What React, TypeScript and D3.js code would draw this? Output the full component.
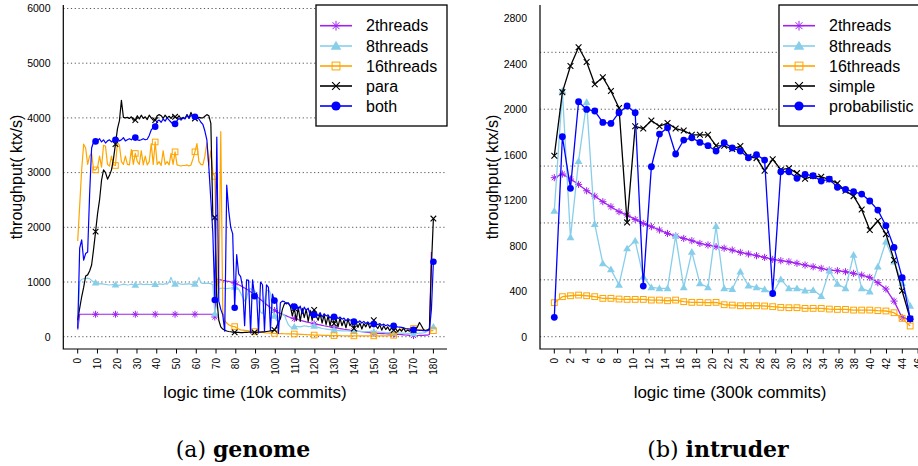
import React from 'react';
import * as d3 from 'd3';

// ---------- genome (logic time in 10k commits) ----------
const genomeTicks = [0, 10, 20, 30, 40, 50, 60, 70, 80, 90, 100, 110, 120, 130, 140, 150, 160, 170, 180];
const genomeYTicks = [0, 1000, 2000, 3000, 4000, 5000, 6000];

const genome2threads = [
  130, 410, 410, 410, 410, 410, 410, 410, 410, 410,
  410, 410, 410, 410, 410, 410, 410, 410, 410, 410,
  410, 410, 410, 410, 410, 410, 410, 410, 410, 410,
  410, 410, 410, 410, 410, 410, 410, 410, 410, 410,
  410, 410, 410, 410, 410, 410, 410, 410, 410, 410,
  410, 410, 410, 410, 410, 410, 410, 410, 410, 410,
  410, 410, 410, 410, 410, 410, 410, 410, 410, 360,
  1050, 1045, 1040, 1030, 1025, 1015, 1010, 1000, 995, 980,
  965, 950, 930, 910, 890, 870, 845, 820, 795, 765,
  740, 710, 680, 650, 620, 590, 560, 530, 505, 480,
  460, 440, 425, 410, 395, 380, 365, 350, 340, 330,
  320, 310, 300, 290, 280, 270, 262, 255, 245, 235,
  228, 222, 215, 208, 200, 193, 186, 180, 172, 165,
  160, 154, 148, 142, 136, 131, 126, 120, 115, 110,
  105, 100, 96, 92, 88, 84, 80, 75, 70, 66,
  64, 62, 60, 58, 56, 54, 52, 50, 48, 46,
  44, 42, 40, 37, 34, 31, 28, 25, 22, 20,
  20, 22, 24, 25, 26, 28, 30, 40, 1550,
];

const genome8threads = [
  150, 1000, 1050, 1060, 1065, 1070, 1060, 1030, 1000, 985,
  975, 965, 970, 960, 955, 950, 945, 950, 955, 950,
  945, 940, 950, 960, 955, 945, 950, 960, 950, 945,
  950, 960, 965, 950, 955, 960, 950, 955, 965, 960,
  950, 965, 960, 955, 970, 960, 1000, 1085, 980, 965,
  960, 975, 960, 955, 965, 960, 970, 955, 960, 965,
  990, 1085, 985, 975, 980, 975, 975, 970, 950, 420,
  600, 880, 885, 890, 885, 880, 885, 890, 900, 910,
  905, 870, 800, 720, 650, 700, 860, 880, 850, 800,
  760, 640, 450, 420, 650, 840, 850, 800, 500, 380,
  300, 280, 330, 420, 400, 300, 220, 180, 170, 180,
  190, 185, 180, 190, 200, 195, 185, 190, 200, 195,
  180, 170, 160, 150, 145, 140, 135, 130, 125, 120,
  115, 112, 110, 108, 106, 104, 104, 102, 100, 100,
  98, 96, 95, 94, 93, 92, 92, 91, 90, 90,
  88, 85, 82, 80, 78, 76, 74, 73, 72, 72,
  70, 68, 66, 65, 64, 63, 62, 62, 61, 60,
  60, 62, 64, 66, 70, 80, 100, 130, 160, 180,
];

const genome16threads = [
  1750, 2400, 3050, 3520, 3450, 3150, 3300, 3350, 3050, 3050,
  3100, 3300, 3100, 3500, 3480, 3150, 3120, 3300, 3140, 3130,
  3550, 3500, 3200, 3150, 3300, 3150, 3140, 3420, 3150, 3350,
  3200, 3150, 3400, 3140, 3300, 3140, 3200, 3530, 3150, 3560,
  3150, 3200, 3130, 3400, 3150, 3200, 3140, 3350, 3150, 3380,
  3140, 3130, 3120, 3130, 3130, 3140, 3120, 3140, 3250, 3380,
  3530, 3200, 3150, 3140, 3300, 3540, 3130, 3400, 3000, 2930,
  1100, 800, 3750, 450, 300, 250, 220, 200, 190, 185,
  160, 140, 125, 120, 115, 110, 105, 100, 95, 95,
  90, 88, 85, 80, 75, 70, 68, 65, 62, 60,
  58, 57, 56, 55, 54, 53, 52, 51, 50, 50,
  48, 46, 44, 42, 40, 38, 36, 34, 32, 30,
  29, 28, 27, 26, 25, 24, 23, 22, 21, 20,
  19, 18, 18, 17, 17, 16, 16, 15, 15, 15,
  15, 15, 15, 15, 15, 15, 15, 15, 15, 15,
  15, 15, 15, 15, 15, 15, 16, 18, 20, 25,
  60, 110, 135, 140, 142, 140, 138, 145, 150, 150,
  135, 130, 128, 125, 122, 120, 118, 115, 112, 110,
];

const genomePara = [
  300, 520, 730, 900, 1110, 1130, 1200, 1310, 1600, 1920,
  2250, 2500, 2860, 3050, 3000, 2880, 2950, 3050, 3250, 3520,
  3800, 3950, 4320, 4010, 4000, 4010, 3990, 4020, 3960, 3960,
  4040, 3980, 4050, 3990, 4020, 3970, 4050, 4000, 3960, 3960,
  4040, 4060, 4040, 3990, 4050, 4000, 4030, 3990, 4040, 4020,
  3990, 4040, 3980, 4010, 3990, 4060, 4000, 4100, 4020, 3990,
  4000, 4010, 4000, 4000, 4030, 4060, 4040, 3900, 2200, 2180,
  700, 300, 180, 140, 120, 105, 95, 90, 85, 80,
  80, 78, 76, 76, 78, 80, 82, 85, 82, 80,
  80, 82, 85, 88, 90, 95, 100, 105, 110, 125,
  180, 260, 330, 500, 600, 620, 610, 560, 380, 520,
  300, 540, 280, 520, 350, 500, 280, 480, 300, 490,
  380, 300, 420, 250, 400, 220, 380, 200, 370, 240,
  330, 180, 340, 200, 300, 160, 320, 200, 260, 150,
  280, 170, 250, 140, 240, 180, 260, 160, 220, 300,
  200, 150, 220, 120, 200, 130, 180, 110, 160, 120,
  150, 90, 140, 100, 160, 90, 120, 100, 140, 120,
  130, 180, 260, 200, 130, 110, 120, 150, 1300, 2160,
];

const genomeBoth = [
  150, 1620, 1770, 1400, 1520, 1550, 2600, 3450, 3560, 3570,
  3580, 3620, 3560, 3600, 3540, 3580, 3600, 3560, 3590, 3600,
  3620, 3580, 3600, 3640, 3580, 3600, 3620, 3600, 3640, 3640,
  3600, 3590, 3600, 3620, 3600, 3610, 3680, 3780, 3820, 3840,
  3940, 3960, 3920, 3980, 3940, 4000, 3960, 3920, 3880, 3890,
  3950, 3990, 3960, 4000, 3980, 4050, 3990, 4050, 4020, 4020,
  4000, 3980, 3920, 3880, 3760, 3600, 3100, 2500, 1900, 670,
  3650, 650, 500, 400, 100, 2770, 2300, 2000, 1880, 530,
  1500, 1150, 1100, 900, 200, 1040, 1030, 70, 1040, 740,
  800, 70, 1000, 950, 100, 950, 900, 120, 780, 660,
  700, 60, 620, 650, 640, 600, 620, 560, 600, 550,
  580, 500, 560, 420, 540, 480, 520, 390, 460, 400,
  430, 380, 440, 360, 420, 380, 400, 340, 390, 365,
  380, 330, 360, 320, 340, 290, 330, 300, 310, 275,
  300, 260, 290, 250, 280, 240, 270, 230, 260, 230,
  250, 220, 240, 210, 230, 200, 220, 190, 210, 200,
  190, 180, 175, 170, 160, 150, 145, 140, 130, 125,
  120, 120, 115, 115, 110, 110, 115, 120, 500, 1370,
];

// ---------- intruder (logic time in 300k commits) ----------
const intruderTicks = [0, 2, 4, 6, 8, 10, 12, 14, 16, 18, 20, 22, 24, 26, 28, 30, 32, 34, 36, 38, 40, 42, 44, 46];
const intruderYTicks = [0, 400, 800, 1200, 1600, 2000, 2400, 2800];
const intruderGrid = [0, 500, 1000, 1500, 2000, 2500];

const intruder2threads = [
  1398, 1430, 1386, 1339, 1283, 1236, 1187, 1143, 1099, 1069,
  1031, 996, 967, 938, 908, 885, 864, 844, 820, 806,
  791, 778, 762, 741, 727, 712, 697, 680, 668, 659,
  645, 630, 615, 601, 586, 580, 571, 557, 542, 522,
  475, 419, 313, 167, 150,
];
const intruder8threads = [
  1106, 2160, 872, 1544, 2061, 989, 644, 591, 456, 775,
  843, 527, 433, 424, 424, 887, 433, 746, 468, 433,
  971, 424, 418, 571, 448, 434, 416, 381, 504, 425,
  425, 404, 410, 357, 580, 463, 425, 718, 425, 396,
  615, 835, 660, 470, 270,
];
const intruder16threads = [
  299, 352, 360, 366, 360, 352, 337, 337, 331, 328,
  328, 328, 322, 322, 316, 322, 308, 302, 302, 299,
  302, 281, 278, 272, 272, 272, 270, 264, 258, 255,
  255, 249, 249, 249, 243, 240, 240, 234, 234, 234,
  229, 226, 211, 161, 94,
];
const intruderSimple = [
  1590, 2150, 2380, 2545, 2415, 2220, 2280, 2160, 2010, 1005,
  1850, 1830, 1900, 1850, 1878, 1830, 1812, 1775, 1775, 1775,
  1680, 1678, 1650, 1676, 1582, 1570, 1460, 1560, 1468, 1480,
  1438, 1388, 1412, 1406, 1383, 1348, 1283, 1236, 1119, 938,
  1017, 902, 674, 404, 158,
];
const intruderProbabilistic = [
  170, 1758, 1304, 2066, 1998, 1984, 1884, 1875, 1969, 2028,
  1969, 445, 1494, 1781, 1837, 1606, 1729, 1749, 1708, 1679,
  1632, 1705, 1660, 1632, 1573, 1600, 1553, 380, 1450, 1450,
  1392, 1427, 1415, 1368, 1386, 1313, 1295, 1275, 1254, 1193,
  1113, 976, 785, 519, 158,
];

const genomeLabels = ['2threads', '8threads', '16threads', 'para', 'both'];
const intruderLabels = ['2threads', '8threads', '16threads', 'simple', 'probabilistic'];

const PURPLE = '#A020F0';
const SKY = '#87CEEB';
const ORANGE = '#FFA500';
const BLACK = '#000000';
const BLUE = '#0000FF';

type Shape = 'asterisk' | 'triangle' | 'square' | 'cross' | 'circle';
const seriesColors = [PURPLE, SKY, ORANGE, BLACK, BLUE];
const seriesShapes: Shape[] = ['asterisk', 'triangle', 'square', 'cross', 'circle'];

const FONT = '"Liberation Sans", Arial, Helvetica, sans-serif';
const SERIF = '"DejaVu Serif", "Liberation Serif", serif';

function Marker({ shape, x, y, color, s }: { shape: Shape; x: number; y: number; color: string; s: number }) {
  switch (shape) {
    case 'asterisk': {
      const a = s * 1.05;
      const b = s * 0.75;
      return (
        <path
          d={`M${x - a},${y}H${x + a}M${x},${y - a}V${y + a}M${x - b},${y - b}L${x + b},${y + b}M${x - b},${y + b}L${x + b},${y - b}`}
          stroke={color}
          strokeWidth={1}
          fill="none"
        />
      );
    }
    case 'triangle': {
      const h = s * 1.15;
      return <path d={`M${x},${y - h}L${x + h},${y + h * 0.72}L${x - h},${y + h * 0.72}Z`} fill={color} stroke="none" />;
    }
    case 'square':
      return <rect x={x - s * 0.85} y={y - s * 0.85} width={s * 1.7} height={s * 1.7} fill="none" stroke={color} strokeWidth={1} />;
    case 'cross': {
      const c = s * 0.85;
      return (
        <path d={`M${x - c},${y - c}L${x + c},${y + c}M${x - c},${y + c}L${x + c},${y - c}`} stroke={color} strokeWidth={1.1} fill="none" />
      );
    }
    default:
      return <circle cx={x} cy={y} r={s} fill={color} />;
  }
}

interface PanelProps {
  series: number[][];
  xOf: (i: number) => number;
  xScale: d3.ScaleLinear<number, number>;
  yScale: d3.ScaleLinear<number, number>;
  xTicks: number[];
  yTicks: number[];
  grid: number[];
  left: number;
  right: number;
  top: number;
  bottom: number;
  markerEvery: (i: number) => boolean;
  markerSize: number;
  lineWidth: number;
  yLabelRight: number;
  yTitleX: number;
  xTitle: string;
  xTitleX: number;
  legendX: number;
  legendW: number;
  labels: string[];
}

function Panel(p: PanelProps) {
  const line = (vals: number[]) =>
    d3
      .line<number>()
      .x((_, i) => p.xScale(p.xOf(i)))
      .y((v) => p.yScale(v))(vals) ?? '';
  const rows = [25.7, 46, 66, 86, 106];
  return (
    <g>
      {/* horizontal dotted grid */}
      {p.grid.map((g) => (
        <line
          key={`g${g}`}
          x1={p.left}
          x2={p.right}
          y1={p.yScale(g)}
          y2={p.yScale(g)}
          stroke="#555"
          strokeWidth={1}
          strokeDasharray="1.2,2.6"
        />
      ))}
      {/* series */}
      {p.series.map((vals, si) => (
        <g key={`s${si}`}>
          <path d={line(vals)} fill="none" stroke={seriesColors[si]} strokeWidth={p.lineWidth} strokeLinejoin="round" />
          {vals.map((v, i) =>
            p.markerEvery(i) ? (
              <Marker key={i} shape={seriesShapes[si]} x={p.xScale(p.xOf(i))} y={p.yScale(v)} color={seriesColors[si]} s={p.markerSize} />
            ) : null
          )}
        </g>
      ))}
      {/* L-shaped axes */}
      <path d={`M${p.left},${p.top}V${p.bottom}H${p.right}`} fill="none" stroke="#000" strokeWidth={1.2} />
      {p.xTicks.map((t) => (
        <g key={`xt${t}`}>
          <line x1={p.xScale(t)} x2={p.xScale(t)} y1={p.bottom} y2={p.bottom + 4.5} stroke="#000" strokeWidth={1} />
          <text
            transform={`translate(${p.xScale(t) + 3.6},${p.bottom + 9}) rotate(-90)`}
            textAnchor="end"
            fontFamily={FONT}
            fontSize={10}
            fill="#000"
          >
            {t}
          </text>
        </g>
      ))}
      {p.yTicks.map((t) => (
        <text key={`yt${t}`} x={p.yLabelRight} y={p.yScale(t) + 3.8} textAnchor="end" fontFamily={FONT} fontSize={10.5} fill="#000">
          {t}
        </text>
      ))}
      <text
        transform={`translate(${p.yTitleX},${(p.top + p.bottom) / 2}) rotate(-90)`}
        textAnchor="middle"
        fontFamily={FONT}
        fontSize={16}
        fill="#000"
      >
        throughput( ktx/s)
      </text>
      <text x={p.xTitleX} y={398} textAnchor="middle" fontFamily={FONT} fontSize={17} fill="#000">
        {p.xTitle}
      </text>
      {/* legend */}
      <rect x={p.legendX} y={5} width={p.legendW} height={121} fill="#fff" stroke="#000" strokeWidth={1.3} />
      {p.labels.map((lab, i) => (
        <g key={lab}>
          <line x1={p.legendX + 4} x2={p.legendX + 36} y1={rows[i]} y2={rows[i]} stroke={seriesColors[i]} strokeWidth={1.6} />
          <Marker shape={seriesShapes[i]} x={p.legendX + 20} y={rows[i]} color={seriesColors[i]} s={4.6} />
          <text x={p.legendX + 50} y={rows[i] + 5.6} fontFamily={FONT} fontSize={16} fill="#000">
            {lab}
          </text>
        </g>
      ))}
    </g>
  );
}

export default function App() {
  const xG = d3.scaleLinear().domain([0, 180]).range([77.7, 433.4]);
  const yG = d3.scaleLinear().domain([0, 6000]).range([336.7, 8.5]);
  const xI = d3.scaleLinear().domain([0, 44]).range([554.3, 902.3]);
  const yI = d3.scaleLinear().domain([0, 2800]).range([336.7, 18.2]);

  return (
    <svg width={918} height={466} viewBox="0 0 918 466" style={{ position: 'absolute', left: 0, top: 0, background: '#fff' }}>
      <rect width={918} height={466} fill="#fff" />
      <Panel
        series={[genome2threads, genome8threads, genome16threads, genomePara, genomeBoth]}
        xOf={(i) => (i * 180) / 179}
        xScale={xG}
        yScale={yG}
        xTicks={genomeTicks}
        yTicks={genomeYTicks}
        grid={genomeYTicks}
        left={63.3}
        right={447}
        top={5}
        bottom={349}
        markerEvery={(i) => i % 10 === 9}
        markerSize={3.3}
        lineWidth={1.2}
        yLabelRight={50.5}
        yTitleX={21.5}
        xTitle="logic time (10k commits)"
        xTitleX={255}
        legendX={316}
        legendW={131}
        labels={genomeLabels}
      />
      <Panel
        series={[intruder2threads, intruder8threads, intruder16threads, intruderSimple, intruderProbabilistic]}
        xOf={(i) => (i * 45) / 44}
        xScale={xI}
        yScale={yI}
        xTicks={intruderTicks}
        yTicks={intruderYTicks}
        grid={intruderGrid}
        left={540}
        right={930}
        top={5}
        bottom={349}
        markerEvery={() => true}
        markerSize={3.4}
        lineWidth={1.3}
        yLabelRight={527}
        yTitleX={498}
        xTitle="logic time (300k commits)"
        xTitleX={730}
        legendX={779}
        legendW={160}
        labels={intruderLabels}
      />
      <text x={243} y={457} textAnchor="middle" fontFamily={SERIF} fontSize={22} fill="#000">
        (a) <tspan fontWeight="bold">genome</tspan>
      </text>
      <text x={718} y={457} textAnchor="middle" fontFamily={SERIF} fontSize={22} fill="#000">
        (b) <tspan fontWeight="bold">intruder</tspan>
      </text>
    </svg>
  );
}
